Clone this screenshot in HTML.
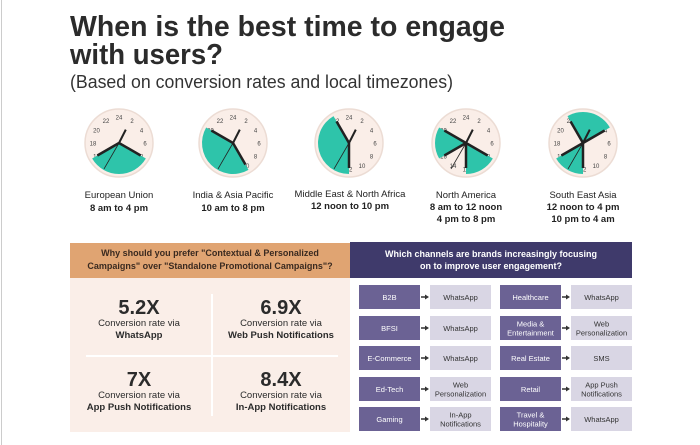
<!DOCTYPE html>
<html><head><meta charset="utf-8"><style>
body{margin:0;width:700px;height:445px;background:#fff;overflow:hidden;font-family:"Liberation Sans",sans-serif}
svg{display:block}
</style></head><body>
<svg id="s" width="700" height="445" xmlns="http://www.w3.org/2000/svg" font-family="Liberation Sans, sans-serif">
<line x1="1.5" y1="0" x2="1.5" y2="445" stroke="#ccc"/>
<text x="70" y="36" font-size="29" font-weight="bold" fill="#2b2b2b" textLength="435" lengthAdjust="spacingAndGlyphs">When is the best time to engage</text>
<text x="70" y="64" font-size="29" font-weight="bold" fill="#2b2b2b" textLength="153" lengthAdjust="spacingAndGlyphs">with users?</text>
<text x="70" y="88" font-size="18" fill="#333" textLength="383" lengthAdjust="spacingAndGlyphs">(Based on conversion rates and local timezones)</text>
<g id="clocks"></g>
<g font-size="9.5" text-anchor="middle" fill="#222">
<text x="119" y="198">European Union</text><text x="119" y="211" font-weight="bold">8 am to 4 pm</text>
<text x="233" y="198">India &amp; Asia Pacific</text><text x="233" y="211" font-weight="bold">10 am to 8 pm</text>
<text x="350" y="197">Middle East &amp; North Africa</text><text x="350" y="209" font-weight="bold">12 noon to 10 pm</text>
<text x="466" y="198">North America</text><text x="466" y="210" font-weight="bold">8 am to 12 noon</text><text x="466" y="222" font-weight="bold">4 pm to 8 pm</text>
<text x="583" y="198">South East Asia</text><text x="583" y="210" font-weight="bold">12 noon to 4 pm</text><text x="583" y="222" font-weight="bold">10 pm to 4 am</text>
</g>
<rect x="70" y="243" width="280" height="35" fill="#e0a472"/>
<g font-size="9" font-weight="bold" text-anchor="middle" fill="#3a2a20">
<text x="210" y="256">Why should you prefer "Contextual &amp; Personalized</text>
<text x="210" y="269">Campaigns" over "Standalone Promotional Campaigns"?</text></g>
<rect x="70" y="278" width="280" height="154" fill="#faeee8"/>
<line x1="212" y1="294" x2="212" y2="416" stroke="#fff" stroke-width="2"/>
<line x1="86" y1="356" x2="338" y2="356" stroke="#fff" stroke-width="2"/>
<g text-anchor="middle" fill="#2b2b2b">
<text x="139" y="314" font-size="20" font-weight="bold">5.2X</text>
<text x="139" y="326" font-size="9.5">Conversion rate via</text>
<text x="139" y="338" font-size="9.5" font-weight="bold">WhatsApp</text>
<text x="281" y="314" font-size="20" font-weight="bold">6.9X</text>
<text x="281" y="326" font-size="9.5">Conversion rate via</text>
<text x="281" y="338" font-size="9.5" font-weight="bold">Web Push Notifications</text>
<text x="139" y="386" font-size="20" font-weight="bold">7X</text>
<text x="139" y="398" font-size="9.5">Conversion rate via</text>
<text x="139" y="410" font-size="9.5" font-weight="bold">App Push Notifications</text>
<text x="281" y="386" font-size="20" font-weight="bold">8.4X</text>
<text x="281" y="398" font-size="9.5">Conversion rate via</text>
<text x="281" y="410" font-size="9.5" font-weight="bold">In-App Notifications</text>
</g>
<rect x="350" y="242" width="282" height="36" fill="#3f3a6b"/>
<g font-size="9" font-weight="bold" text-anchor="middle" fill="#fff">
<text x="491" y="257">Which channels are brands increasingly focusing</text>
<text x="491" y="269">on to improve user engagement?</text></g>
<g id="boxes" font-size="7.5" text-anchor="middle"></g>
</svg>
<script>
const NS="http://www.w3.org/2000/svg";
function el(p,t,a,txt){const e=document.createElementNS(NS,t);for(const k in a)e.setAttribute(k,a[k]);if(txt!=null)e.textContent=txt;p.appendChild(e);return e;}
const cg=document.getElementById('clocks');
function pt(cx,cy,r,h){const a=h*15*Math.PI/180;return [cx+r*Math.sin(a),cy-r*Math.cos(a)];}
const clocks=[[119,143,[[8,16]]],[233,143,[[10,20]]],[349,143,[[12,22]]],[466,143,[[8,12],[16,20]]],[583,143,[[12,16],[22,28]]]];
clocks.forEach(([cx,cy,ws])=>{
 el(cg,'circle',{cx,cy,r:34,fill:'#faeee8',stroke:'#ecdcd4','stroke-width':1.5});
 for(let h=2;h<=24;h+=2){const [x,y]=pt(cx,cy,26,h);el(cg,'text',{x,y:y+2.5,'font-size':6,'text-anchor':'middle',fill:'#444'},String(h));}
 ws.forEach(([a,b])=>{const r=31;const [x1,y1]=pt(cx,cy,r,a),[x2,y2]=pt(cx,cy,r,b);
  el(cg,'path',{d:`M${cx},${cy}L${x1},${y1}A${r},${r} 0 ${(b-a)>12?1:0} 1 ${x2},${y2}Z`,fill:'#2ec4aa'});
  [a,b].forEach(h=>{const [x,y]=pt(cx,cy,25,h);el(cg,'line',{x1:cx,y1:cy,x2:x,y2:y,stroke:'#222','stroke-width':2.5});});});
 let [x,y]=pt(cx,cy,15,1.8);el(cg,'line',{x1:cx,y1:cy,x2:x,y2:y,stroke:'#222','stroke-width':2});
 [x,y]=pt(cx,cy,30,14);el(cg,'line',{x1:cx,y1:cy,x2:x,y2:y,stroke:'#222','stroke-width':0.8});
});
const bg=document.getElementById('boxes');
const rows=[["B2B","WhatsApp","Healthcare","WhatsApp"],["BFSI","WhatsApp","Media &|Entertainment","Web|Personalization"],["E-Commerce","WhatsApp","Real Estate","SMS"],["Ed-Tech","Web|Personalization","Retail","App Push|Notifications"],["Gaming","In-App|Notifications","Travel &|Hospitality","WhatsApp"]];
const ys=[285,316,346,377,407];
function box(x,y,fill,col,txt){el(bg,'rect',{x,y,width:61,height:24,fill});const ls=txt.split('|');ls.forEach((l,i)=>el(bg,'text',{x:x+30.5,y:y+12+3-(ls.length-1)*4.5+i*9,fill:col},l));}
function arrow(x,y){el(bg,'line',{x1:x,y1:y,x2:x+5,y2:y,stroke:'#333','stroke-width':1.5});el(bg,'path',{d:`M${x+4},${y-2.5}L${x+8},${y}L${x+4},${y+2.5}Z`,fill:'#333'});}
rows.forEach((r,i)=>{const y=ys[i];
 box(359,y,'#6b6294','#fff',r[0]);arrow(421,y+12);box(430,y,'#d9d6e4','#333',r[1]);
 box(500,y,'#6b6294','#fff',r[2]);arrow(562,y+12);box(571,y,'#d9d6e4','#333',r[3]);});
</script>
</body></html>
